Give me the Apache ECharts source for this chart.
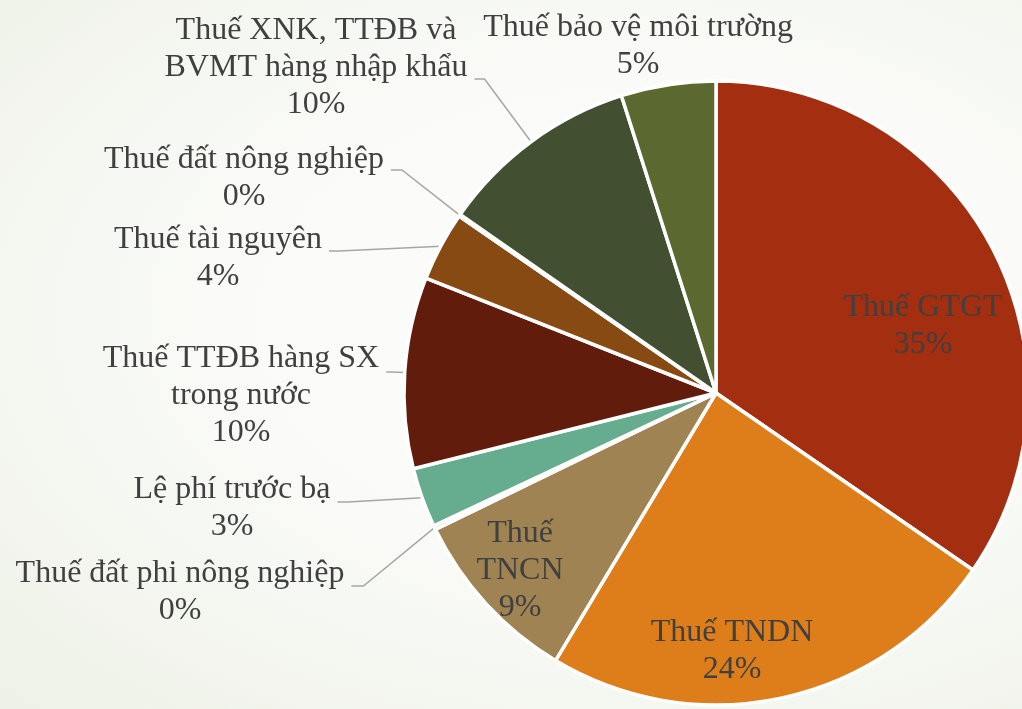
<!DOCTYPE html>
<html>
<head>
<meta charset="utf-8">
<script src="https://cdn.jsdelivr.net/npm/echarts@6/dist/echarts.min.js"></script>
<style>
html, body { margin: 0; padding: 0; }
#chart {
  width: 1022px; height: 709px;
  background: radial-gradient(ellipse at 62% 45%, #FDFDFC 0%, #FAFBF8 45%, #EEF1E7 100%);
}
</style>
</head>
<body>
<div id="chart"></div>
<script>
// ---- data ----
const categories = [
  'Thuế GTGT',
  'Thuế TNDN',
  'Thuế\nTNCN',
  'Thuế đất phi nông nghiệp',
  'Lệ phí trước bạ',
  'Thuế TTĐB hàng SX\ntrong nước',
  'Thuế tài nguyên',
  'Thuế đất nông nghiệp',
  'Thuế XNK, TTĐB và\nBVMT hàng nhập khẩu',
  'Thuế bảo vệ môi trường'
];
const values = [34.6, 24.0, 9.2, 0.2, 3.1, 9.9, 3.6, 0.1, 10.4, 4.9];

// ---- styles ----
const colors = ['#A32E10', '#DE7E1B', '#A08352', '#8FA35A', '#66AC8E', '#621C0C', '#874A12', '#6E5A30', '#434F31', '#5B6930'];
const labelInside = [true, true, true, false, false, false, false, false, false, false];
const showLine = [false, false, false, true, true, true, true, true, true, false];
// label block centres and leader-line anchors (text placement only)
const labelPlace = [
  { x: 923, y: 326 },
  { x: 732, y: 651 },
  { x: 520, y: 571 },
  { x: 180, y: 592, dy: -6, bend: 12 },
  { x: 232, y: 508, dy: -6, bend: 10 },
  { x: 241, y: 396, dy: -24, bend: 5 },
  { x: 218, y: 258, dy: -7, bend: 10 },
  { x: 244, y: 178, dy: -8, bend: 11 },
  { x: 316, y: 68, dy: 11, bend: 10 },
  { x: 638, y: 46 }
];

const chart = echarts.init(document.getElementById('chart'), null, { renderer: 'canvas' });

const seriesData = categories.map((name, i) => ({
  name: name,
  value: values[i],
  itemStyle: { color: colors[i] },
  label: { position: labelInside[i] ? 'inside' : 'outside' },
  labelLine: { show: showLine[i] }
}));

chart.setOption({
  backgroundColor: 'transparent',
  animation: false,
  series: [{
    type: 'pie',
    center: [716, 393],
    radius: 312,
    startAngle: 90,
    clockwise: true,
    avoidLabelOverlap: false,
    data: seriesData,
    itemStyle: { borderColor: '#FFFFFF', borderWidth: 3.5 },
    label: {
      show: true,
      fontFamily: 'Liberation Serif',
      fontSize: 32,
      lineHeight: 37,
      color: '#404040',
      formatter: p => p.name + '\n' + Math.round(p.percent) + '%'
    },
    labelLine: {
      lineStyle: { color: '#A6A6A6', width: 1.5 }
    },
    emphasis: { disabled: true },
    labelLayout: function (p) {
      const L = labelPlace[p.dataIndex];
      const out = { x: L.x, y: L.y, align: 'center', verticalAlign: 'middle' };
      if (L.dy != null && p.labelLinePoints) {
        const ex = L.x + p.labelRect.width / 2 + 7;
        const ey = L.y + L.dy;
        const edge = p.labelLinePoints[0];
        out.labelLinePoints = [[edge[0], edge[1]], [ex + L.bend, ey], [ex, ey]];
      }
      return out;
    }
  }]
});
</script>
</body>
</html>
